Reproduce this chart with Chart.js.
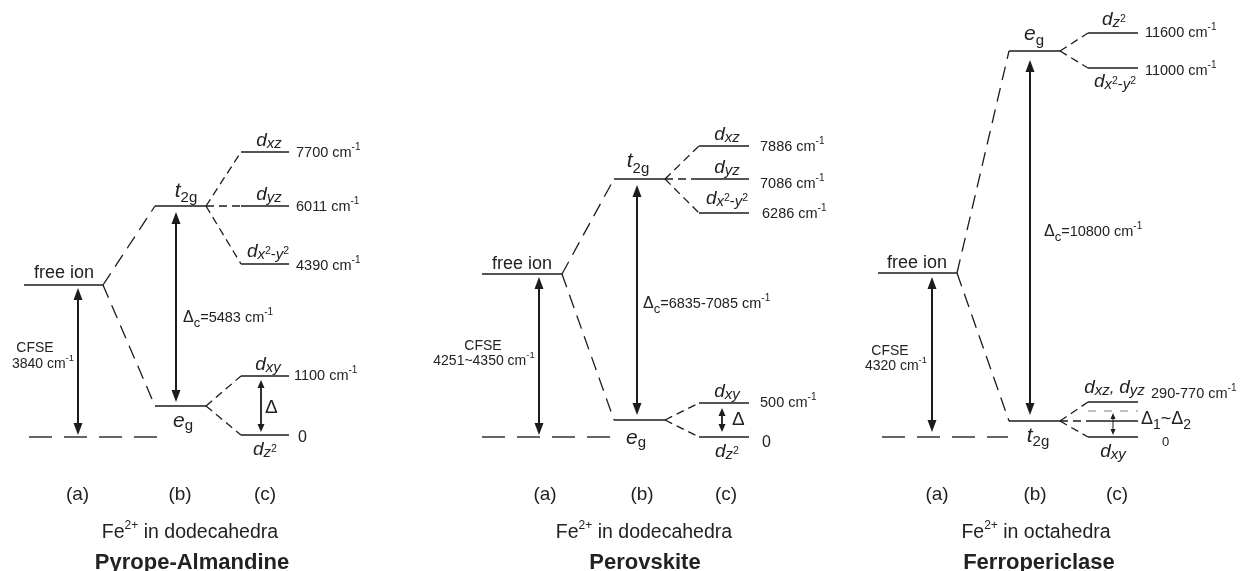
<!DOCTYPE html>
<html>
<head>
<meta charset="utf-8">
<script src="https://cdn.jsdelivr.net/npm/chart.js@4.4.1/dist/chart.umd.min.js"></script>
<style>
html,body{margin:0;padding:0;background:#fff;}
#wrap{width:1240px;height:571px;position:relative;}
</style>
</head>
<body>
<div id="wrap"><canvas id="c" width="1240" height="571"></canvas></div>
<script>
// ================= DATA =================
const panelTitles   = ['Pyrope-Almandine', 'Perovskite', 'Ferropericlase'];
const polyhedra     = ['dodecahedra', 'dodecahedra', 'octahedra'];
const columnLabels  = ['(a)', '(b)', '(c)'];
// schematic level heights (diagram units above the ground state = 0)
const freeIonLevel  = [152, 163, 164];
const upperLevel    = [231, 258, 386];
const lowerLevel    = [31, 17, 16];
const upperName     = [['t', '2g'], ['t', '2g'], ['e', 'g']];
const lowerName     = [['e', 'g'], ['e', 'g'], ['t', '2g']];
const cfseText      = ['3840', '4251~4350', '4320'];
const deltaCText    = ['5483', '6835-7085', '10800'];
// split d-orbital levels (column c)
const splitOrbital  = [['xz', 'yz', 'x2-y2', 'xy', 'z2'],
                       ['xz', 'yz', 'x2-y2', 'xy', 'z2'],
                       ['z2', 'x2-y2', 'xz,yz', '', 'xy']];
const splitLevel    = [[285, 231, 173, 61, 2],
                       [291, 258, 224, 34, 0],
                       [404, 369, 35, 16, 0]];
const splitParent   = [[1, 1, 1, 0, 0], [1, 1, 1, 0, 0], [1, 1, 0, 0, 0]]; // 1 = upper group, 0 = lower group
const splitEnergy   = [['7700', '6011', '4390', '1100', '0'],
                       ['7886', '7086', '6286', '500', '0'],
                       ['11600', '11000', '290-770', '', '0']];
const rangeLowLevel = [null, null, 26];      // grey dashed level (Ferropericlase)
const deltaText     = ['Δ', 'Δ', 'Δ1~Δ2'];
const deltaFrom     = [[61, 2], [34, 0], [26, 0]];

// ================= LAYOUT (positions / styles) =================
const layout = [
  { fi:[24,103], gnd:[29,157], grp:[155,206], spl:[241,289], cfseX:78, dcX:176, dX:261,
    cols:[77.5,180,265], capX:190, titleX:192, fiLab:{x:64,dy:-7},
    upLab:{x:186,dy:-9,sub:5}, loLab:{x:183,dy:21,sub:3},
    orbX:[269,269,268,268,265], orbDy:[-6,-6,-7,-6,20],
    numX:[296,296,296,294,298], numDy:[5,5,6,4,7], zeroSize:16,
    dcLab:{x:183,v:115}, cfseLab:{x1:35,v1:85,x2:43,v2:69}, dLab:{x:265,v:24},
    gap:{cfse:[3,2], dc:[6,4], d:[4,3]} },
  { fi:[482,562], gnd:[482,610], grp:[614,665], spl:[699,749], cfseX:539, dcX:637, dX:722,
    cols:[545,642,726], capX:644, titleX:645, fiLab:{x:522,dy:-5},
    upLab:{x:638,dy:-12,sub:6}, loLab:{x:636,dy:24,sub:3},
    orbX:[727,727,727,727,727], orbDy:[-6,-6,-9,-6,20],
    numX:[760,760,762,760,762], numDy:[5,9,5,4,10], zeroSize:16,
    dcLab:{x:643,v:129}, cfseLab:{x1:483,v1:87,x2:484,v2:72}, dLab:{x:732,v:12},
    gap:{cfse:[3,2], dc:[6,5], d:[5,5]} },
  { fi:[878,957], gnd:[882,1008], grp:[1009,1060], spl:[1088,1138], cfseX:932, dcX:1030, dX:1113,
    cols:[937,1035,1117], capX:1036, titleX:1039, fiLab:{x:917,dy:-5},
    upLab:{x:1034,dy:-11,sub:5}, loLab:{x:1038,dy:21,sub:4},
    orbX:[1114,1115,1114.5,0,1113], orbDy:[-8,19,-9,0,20],
    numX:[1145,1145,1151,0,1162], numDy:[4,7,-4,0,9], zeroSize:13,
    dcLab:{x:1044,v:201}, cfseLab:{x1:890,v1:82,x2:896,v2:67}, dLab:{x:1141,v:13},
    gap:{cfse:[4,5], dc:[9,6], d:[2,2]} }
];

const FONT = '"Liberation Sans", Arial, Helvetica, sans-serif';
const LINE = '#1c1c1c';
const TEXT = '#222';
const DASH_LONG = [14, 8];
const DASH_SHORT = [8, 5];

// ================= DATASETS =================
const datasets = [];
function seg(x1, y1, x2, y2, opt) {
  datasets.push(Object.assign({
    data: [{x: x1, y: y1}, {x: x2, y: y2}],
    borderColor: LINE, borderWidth: 1.5, pointRadius: 0, pointHoverRadius: 0,
    showLine: true, fill: false, tension: 0
  }, opt || {}));
}
for (let p = 0; p < 3; p++) {
  const L = layout[p];
  seg(L.fi[0], freeIonLevel[p], L.fi[1], freeIonLevel[p]);
  seg(L.gnd[0], 0, L.gnd[1], 0, {borderDash: [23, 12], borderColor: '#333'});
  seg(L.grp[0], upperLevel[p], L.grp[1], upperLevel[p]);
  seg(L.grp[0], lowerLevel[p], L.grp[1], lowerLevel[p]);
  seg(L.fi[1], freeIonLevel[p], L.grp[0], upperLevel[p], {borderDash: DASH_LONG, borderWidth: 1.3});
  seg(L.fi[1], freeIonLevel[p], L.grp[0], lowerLevel[p], {borderDash: DASH_LONG, borderWidth: 1.3});
  splitLevel[p].forEach((lv, i) => {
    const parent = splitParent[p][i] ? upperLevel[p] : lowerLevel[p];
    seg(L.spl[0], lv, L.spl[1], lv);
    seg(L.grp[1], parent, L.spl[0], lv, {borderDash: DASH_SHORT, borderWidth: 1.3});
  });
  if (rangeLowLevel[p] !== null) {
    seg(L.spl[0], rangeLowLevel[p], L.spl[1], rangeLowLevel[p], {borderDash: [8, 8], borderColor: '#aaa'});
  }
}

// ================= TEXT HELPERS =================
function fnt(p) { return (p.i ? 'italic ' : '') + (p.b ? 'bold ' : '') + p.s + 'px ' + FONT; }
function drawRich(ctx, x, y, parts, align) {
  let w = 0;
  parts.forEach(p => { ctx.font = fnt(p); w += ctx.measureText(p.t).width; });
  let cx = align === 'center' ? x - w / 2 : (align === 'right' ? x - w : x);
  parts.forEach(p => {
    ctx.font = fnt(p);
    ctx.fillText(p.t, cx, y + (p.dy || 0));
    cx += ctx.measureText(p.t).width;
  });
}
function orbParts(str) {
  const out = [];
  str.split(',').forEach((part, k) => {
    if (k > 0) out.push({t: ', ', s: 17, i: true});
    out.push({t: 'd', s: 19, i: true});
    for (const ch of part) {
      if (ch === '2') out.push({t: '2', s: 10.5, dy: -3});
      else if (ch === '-') out.push({t: '-', s: 15, dy: 2});
      else out.push({t: ch, s: 15, i: true, dy: 2});
    }
  });
  return out;
}
function cmParts(v, s, sup) { return [{t: v + ' cm', s: s}, {t: '-1', s: sup, dy: -7}]; }
function deltaParts(str, big, sub) {
  const out = [];
  for (const ch of str) {
    if (/[0-9]/.test(ch)) out.push({t: ch, s: sub, dy: 5});
    else out.push({t: ch, s: big});
  }
  return out;
}
function arrow(ctx, x, y1, y2, lw, hl, hw) {
  // y1 top tip, y2 bottom tip (pixels)
  ctx.strokeStyle = LINE; ctx.fillStyle = LINE; ctx.lineWidth = lw;
  ctx.beginPath(); ctx.moveTo(x, y1 + hl - 1); ctx.lineTo(x, y2 - hl + 1); ctx.stroke();
  ctx.beginPath(); ctx.moveTo(x, y1); ctx.lineTo(x - hw, y1 + hl); ctx.lineTo(x + hw, y1 + hl); ctx.closePath(); ctx.fill();
  ctx.beginPath(); ctx.moveTo(x, y2); ctx.lineTo(x - hw, y2 - hl); ctx.lineTo(x + hw, y2 - hl); ctx.closePath(); ctx.fill();
}

const diagramPlugin = {
  id: 'diagram',
  afterDatasetsDraw(chart) {
    const ctx = chart.ctx;
    const X = v => chart.scales.x.getPixelForValue(v);
    const Y = v => chart.scales.y.getPixelForValue(v);
    ctx.save();
    ctx.textBaseline = 'alphabetic';
    for (let p = 0; p < 3; p++) {
      const L = layout[p];
      // arrows
      arrow(ctx, X(L.cfseX), Y(freeIonLevel[p]) + L.gap.cfse[0], Y(0) - L.gap.cfse[1], 2, 12, 4.5);
      arrow(ctx, X(L.dcX), Y(upperLevel[p]) + L.gap.dc[0], Y(lowerLevel[p]) - L.gap.dc[1], 2, 12, 4.5);
      if (p < 2) arrow(ctx, X(L.dX), Y(deltaFrom[p][0]) + L.gap.d[0], Y(deltaFrom[p][1]) - L.gap.d[1], 1.8, 8, 3.5);
      else arrow(ctx, X(L.dX), Y(deltaFrom[p][0]) + L.gap.d[0], Y(deltaFrom[p][1]) - L.gap.d[1], 1, 6, 2.5);

      ctx.fillStyle = TEXT;
      // free ion
      drawRich(ctx, X(L.fiLab.x), Y(freeIonLevel[p]) + L.fiLab.dy, [{t: 'free ion', s: 18}], 'center');
      // group labels
      drawRich(ctx, X(L.upLab.x), Y(upperLevel[p]) + L.upLab.dy,
        [{t: upperName[p][0], s: 21, i: true}, {t: upperName[p][1], s: 15, dy: L.upLab.sub}], 'center');
      drawRich(ctx, X(L.loLab.x), Y(lowerLevel[p]) + L.loLab.dy,
        [{t: lowerName[p][0], s: 21, i: true}, {t: lowerName[p][1], s: 15, dy: L.loLab.sub}], 'center');
      // split orbitals
      splitLevel[p].forEach((lv, i) => {
        if (splitOrbital[p][i]) drawRich(ctx, X(L.orbX[i]), Y(lv) + L.orbDy[i], orbParts(splitOrbital[p][i]), 'center');
        const e = splitEnergy[p][i];
        if (e === '0') drawRich(ctx, X(L.numX[i]), Y(lv) + L.numDy[i], [{t: '0', s: L.zeroSize}], 'left');
        else if (e) drawRich(ctx, X(L.numX[i]), Y(lv) + L.numDy[i], cmParts(e, 14.5, 10), 'left');
      });
      // delta c
      drawRich(ctx, X(L.dcLab.x), Y(L.dcLab.v),
        [{t: 'Δ', s: 16}, {t: 'c', s: 13, dy: 5}, {t: '=' + deltaCText[p] + ' cm', s: 14.5}, {t: '-1', s: 10, dy: -7}], 'left');
      // CFSE
      drawRich(ctx, X(L.cfseLab.x1), Y(L.cfseLab.v1), [{t: 'CFSE', s: 14}], 'center');
      drawRich(ctx, X(L.cfseLab.x2), Y(L.cfseLab.v2), cmParts(cfseText[p], 14, 9.5), 'center');
      // small delta
      drawRich(ctx, X(L.dLab.x), Y(L.dLab.v), deltaParts(deltaText[p], p < 2 ? 19 : 18, 14), 'left');
      // column labels, captions, titles
      columnLabels.forEach((c, k) => drawRich(ctx, X(L.cols[k]), Y(-63), [{t: c, s: 19}], 'center'));
      drawRich(ctx, X(L.capX), Y(-101), [{t: 'Fe', s: 19.5}, {t: '2+', s: 12, dy: -9}, {t: ' in ' + polyhedra[p], s: 19.5}], 'center');
      drawRich(ctx, X(L.titleX), Y(-132), [{t: panelTitles[p], s: 22, b: true}], 'center');
    }
    ctx.restore();
  }
};

Chart.defaults.font.family = FONT;
new Chart(document.getElementById('c'), {
  type: 'scatter',
  data: {datasets: datasets},
  options: {
    responsive: false,
    animation: false,
    devicePixelRatio: 1,
    layout: {padding: 0},
    plugins: {legend: {display: false}, tooltip: {enabled: false}},
    events: [],
    scales: {
      x: {type: 'linear', min: 0, max: 1240, display: false},
      y: {type: 'linear', min: -134, max: 437, display: false}
    }
  },
  plugins: [diagramPlugin]
});
</script>
</body>
</html>
